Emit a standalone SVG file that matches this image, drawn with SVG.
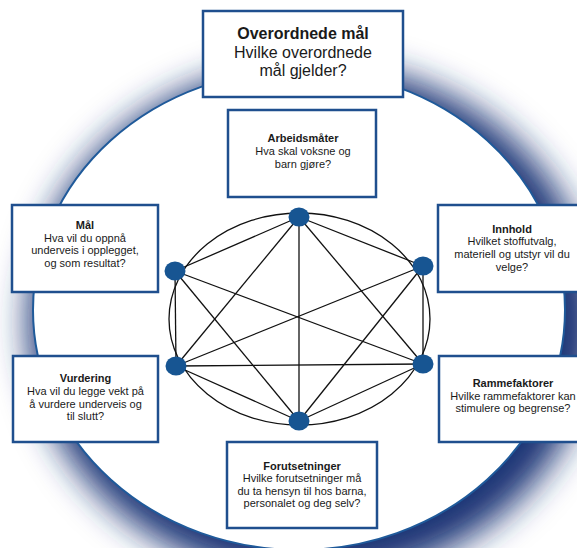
<svg xmlns="http://www.w3.org/2000/svg" width="577" height="548" viewBox="0 0 577 548">
  <defs>
    <filter id="sh" x="-30%" y="-30%" width="160%" height="160%">
      <feGaussianBlur stdDeviation="17"/>
    </filter>
    <style>
      .box { fill: #ffffff; stroke: #1f4f8e; stroke-width: 2.5; }
      .t { font-family: "Liberation Sans", Arial, sans-serif; font-size: 11px; fill: #1a1a1a; text-anchor: middle; }
      .b { font-weight: bold; }
      .big { font-size: 16px; }
      .edge { stroke: #111111; stroke-width: 1.3; fill: none; }
      .node { fill: #175592; }
    </style>
  </defs>

  <rect x="0" y="0" width="577" height="548" fill="#ffffff"/>

  <!-- background disc with shadow -->
  <g id="background">
    <ellipse cx="312" cy="322" rx="284" ry="258" fill="#1f3676" filter="url(#sh)"/>
    <ellipse cx="299" cy="310" rx="266" ry="240" fill="#ffffff" stroke="#1f5a9a" stroke-width="2"/>
  </g>

  <!-- connectors -->
  <g id="connectors">
    <ellipse cx="299.5" cy="319" rx="130.5" ry="106" class="edge" stroke-width="1.1"/>
    <line class="edge" x1="299" y1="217" x2="175" y2="271"/>
    <line class="edge" x1="299" y1="217" x2="423" y2="266"/>
    <line class="edge" x1="299" y1="217" x2="176" y2="366"/>
    <line class="edge" x1="299" y1="217" x2="423" y2="364"/>
    <line class="edge" x1="299" y1="217" x2="299" y2="421"/>
    <line class="edge" x1="175" y1="271" x2="176" y2="366"/>
    <line class="edge" x1="175" y1="271" x2="423" y2="364"/>
    <line class="edge" x1="175" y1="271" x2="299" y2="421"/>
    <line class="edge" x1="423" y1="266" x2="176" y2="366"/>
    <line class="edge" x1="423" y1="266" x2="299" y2="421"/>
    <line class="edge" x1="423" y1="266" x2="423" y2="364"/>
    <line class="edge" x1="176" y1="366" x2="423" y2="364"/>
    <line class="edge" x1="176" y1="366" x2="299" y2="421"/>
    <line class="edge" x1="423" y1="364" x2="299" y2="421"/>
  </g>

  <!-- graph points -->
  <g id="points">
    <ellipse class="node" cx="299" cy="217" rx="10.5" ry="9.5"/>
    <ellipse class="node" cx="175" cy="271" rx="10.5" ry="9.5"/>
    <ellipse class="node" cx="423" cy="266" rx="10.5" ry="9.5"/>
    <ellipse class="node" cx="176" cy="366" rx="10.5" ry="9.5"/>
    <ellipse class="node" cx="423" cy="364" rx="10.5" ry="9.5"/>
    <ellipse class="node" cx="299" cy="421" rx="10.5" ry="9.5"/>
  </g>

  <g id="overordnede">
    <rect class="box" x="203" y="11" width="200" height="86"/>
    <text class="t big b" x="303" y="39">Overordnede mål</text>
    <text class="t big" x="303" y="57.5">Hvilke overordnede</text>
    <text class="t big" x="303" y="76">mål gjelder?</text>
  </g>

  <g id="arbeidsmater">
    <rect class="box" x="228" y="110" width="148" height="87"/>
    <text class="t b" x="303" y="142.3">Arbeidsmåter</text>
    <text class="t" x="303" y="155">Hva skal voksne og</text>
    <text class="t" x="303" y="167.7">barn gjøre?</text>
  </g>

  <g id="mal">
    <rect class="box" x="12" y="205" width="146" height="87"/>
    <text class="t b" x="85" y="229">Mål</text>
    <text class="t" x="85" y="241.7">Hva vil du oppnå</text>
    <text class="t" x="85" y="254.4">underveis i opplegget,</text>
    <text class="t" x="85" y="267.1">og som resultat?</text>
  </g>

  <g id="innhold">
    <rect class="box" x="438" y="205" width="148" height="87"/>
    <text class="t b" x="512" y="232.7">Innhold</text>
    <text class="t" x="512" y="245.4">Hvilket stoffutvalg,</text>
    <text class="t" x="512" y="258.1">materiell og utstyr vil du</text>
    <text class="t" x="512" y="270.8">velge?</text>
  </g>

  <g id="vurdering">
    <rect class="box" x="13" y="356" width="145" height="86"/>
    <text class="t b" x="85.5" y="382.3">Vurdering</text>
    <text class="t" x="85.5" y="395">Hva vil du legge vekt på</text>
    <text class="t" x="85.5" y="407.7">å vurdere underveis og</text>
    <text class="t" x="85.5" y="420.4">til slutt?</text>
  </g>

  <g id="rammefaktorer">
    <rect class="box" x="439" y="356" width="148" height="86"/>
    <text class="t b" x="513" y="387.3">Rammefaktorer</text>
    <text class="t" x="513" y="399.8">Hvilke rammefaktorer kan</text>
    <text class="t" x="513" y="412.3">stimulere og begrense?</text>
  </g>

  <g id="forutsetninger">
    <rect class="box" x="227" y="442" width="150" height="86"/>
    <text class="t b" x="302" y="470">Forutsetninger</text>
    <text class="t" x="302" y="482.4">Hvilke forutsetninger må</text>
    <text class="t" x="302" y="494.8">du ta hensyn til hos barna,</text>
    <text class="t" x="302" y="507.2">personalet og deg selv?</text>
  </g>
</svg>
